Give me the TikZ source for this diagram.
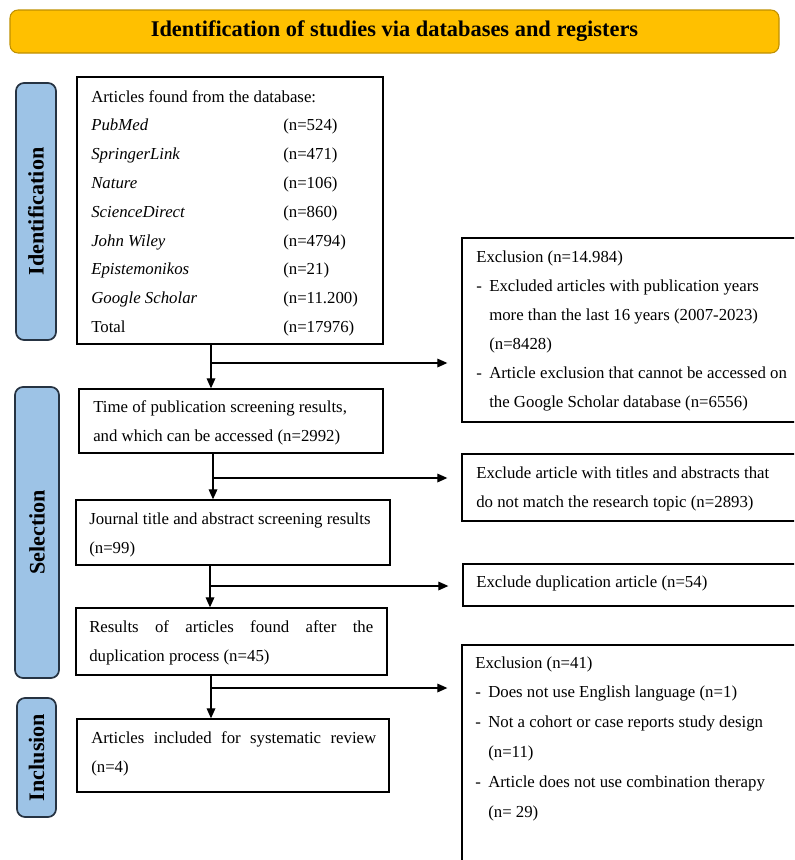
\documentclass[tikz,border=0pt]{standalone}
\usepackage{fontspec}
\setmainfont{Liberation Serif}
\usetikzlibrary{arrows.meta}
\definecolor{bannerfill}{HTML}{FFC000}
\definecolor{bannerdraw}{HTML}{BF9000}
\definecolor{lblfill}{HTML}{9DC3E6}
\definecolor{lbldraw}{HTML}{263342}
\newcommand{\txtsize}{\fontsize{12.6pt}{21.75pt}\selectfont}
\newcommand{\dbrow}[2]{\makebox[144pt][l]{#1}#2}
\newcommand{\itemdsh}{\makebox[9.75pt][l]{-}}
\newcommand{\indnt}{\hspace*{9.75pt}}
\begin{document}
\begin{tikzpicture}[x=0.75pt,y=-0.75pt,
  box/.style={draw, line width=1pt, inner sep=0pt, fill=white},
  lbl/.style={draw=lbldraw, fill=lblfill, line width=1.3pt, rounded corners=6pt, inner sep=0pt,
    font=\fontsize{16.6pt}{20pt}\selectfont\bfseries},
  banner/.style={draw=bannerdraw, fill=bannerfill, line width=0.8pt, rounded corners=6pt, inner sep=0pt,
    font=\fontsize{16.8pt}{20pt}\selectfont\bfseries},
  txt/.style={anchor=base west, inner sep=0pt, font=\txtsize},
  arr/.style={line width=0.9pt, -{Triangle[length=7.5pt,width=6.5pt]}},
  branch/.style={arr, shorten >=10.5pt}
]
\useasboundingbox (0,0) rectangle (794,860);
\clip (0,0) rectangle (794,860);

% banner
\node[banner, minimum width=769*0.75pt, minimum height=43*0.75pt] (ban) at (394.5,31.5)
  {Identification of studies via databases and registers};

% phase labels
\node[lbl, rotate=90, minimum width=257*0.75pt, minimum height=40*0.75pt] (lid) at (36,211.5) {Identification};
\node[lbl, rotate=90, minimum width=291*0.75pt, minimum height=44*0.75pt] (lsel) at (37,532.5) {Selection};
\node[lbl, rotate=90, minimum width=119*0.75pt, minimum height=39*0.75pt] (linc) at (36.5,757.5) {Inclusion};

% left boxes
\node[box, minimum width=306*0.75pt, minimum height=267*0.75pt] (b1) at (230,210.5) {};
\node[box, minimum width=304*0.75pt, minimum height=64*0.75pt] (b2) at (231,421) {};
\node[box, minimum width=314*0.75pt, minimum height=65*0.75pt] (b3) at (233,532.5) {};
\node[box, minimum width=311*0.75pt, minimum height=67*0.75pt] (b4) at (231.5,641.5) {};
\node[box, minimum width=312*0.75pt, minimum height=73*0.75pt] (b5) at (233,755.5) {};

% right boxes
\node[box, minimum width=348*0.75pt, minimum height=184*0.75pt] (r1) at (636,330) {};
\node[box, minimum width=348*0.75pt, minimum height=67*0.75pt] (r2) at (636,487.5) {};
\node[box, minimum width=347*0.75pt, minimum height=42*0.75pt] (r3) at (636.5,585) {};
\node[box, minimum width=348*0.75pt, minimum height=235*0.75pt] (r4) at (636,762.5) {};

% texts
\node[txt] (t1) at (91,102) {\parbox[t]{220pt}{\fontsize{12.6pt}{21.6pt}\selectfont
  Articles found from the database:\\
  \dbrow{\textit{PubMed}}{(n=524)}\\
  \dbrow{\textit{SpringerLink}}{(n=471)}\\
  \dbrow{\textit{Nature}}{(n=106)}\\
  \dbrow{\textit{ScienceDirect}}{(n=860)}\\
  \dbrow{\textit{John Wiley}}{(n=4794)}\\
  \dbrow{\textit{Epistemonikos}}{(n=21)}\\
  \dbrow{\textit{Google Scholar}}{(n=11.200)}\\
  \dbrow{Total}{(n=17976)}}};
\node[txt] (t2) at (93,412) {\parbox[t]{225pt}{
  Time of publication screening results,\\
  and which can be accessed (n=2992)}};
\node[txt] (t3) at (89,524) {\parbox[t]{230pt}{
  Journal title and abstract screening results\\
  (n=99)}};
\node[txt] (t4) at (89,632) {\parbox[t]{230pt}{
  \makebox[213pt][s]{Results of articles found after the}\\
  duplication process (n=45)}};
\node[txt] (t5) at (91,743) {\parbox[t]{230pt}{
  \makebox[213.75pt][s]{Articles included for systematic review}\\
  (n=4)}};

\node[txt] (s1) at (476,262) {\parbox[t]{240pt}{
  Exclusion (n=14.984)\\
  \itemdsh Excluded articles with publication years\\
  \indnt more than the last 16 years (2007-2023)\\
  \indnt (n=8428)\\
  \itemdsh Article exclusion that cannot be accessed on\\
  \indnt the Google Scholar database (n=6556)}};
\node[txt] (s2) at (476,478) {\parbox[t]{240pt}{
  Exclude article with titles and abstracts that\\
  do not match the research topic (n=2893)}};
\node[txt] (s3) at (476,587) {Exclude duplication article (n=54)};
\node[txt] (s4) at (475,668) {\parbox[t]{240pt}{\fontsize{12.6pt}{22.35pt}\selectfont
  Exclusion (n=41)\\
  \itemdsh Does not use English language (n=1)\\
  \itemdsh Not a cohort or case reports study design\\
  \indnt (n=11)\\
  \itemdsh Article does not use combination therapy\\
  \indnt (n= 29)}};

% connectors
\coordinate (j1) at (211,363);
\coordinate (j2) at (213,478);
\coordinate (j3) at (210,586);
\coordinate (j4) at (211,688);
\draw[arr] (b1.south -| j1) -- (b2.north -| j1);
\draw[arr] (b2.south -| j2) -- (b3.north -| j2);
\draw[arr] (b3.south -| j3) -- (b4.north -| j3);
\draw[arr] (b4.south -| j4) -- (b5.north -| j4);
\draw[branch] (j1) -- (j1 -| r1.west);
\draw[branch] (j2) -- (j2 -| r2.west);
\draw[branch] (j3) -- (j3 -| r3.west);
\draw[branch] (j4) -- (j4 -| r4.west);
\end{tikzpicture}
\end{document}
